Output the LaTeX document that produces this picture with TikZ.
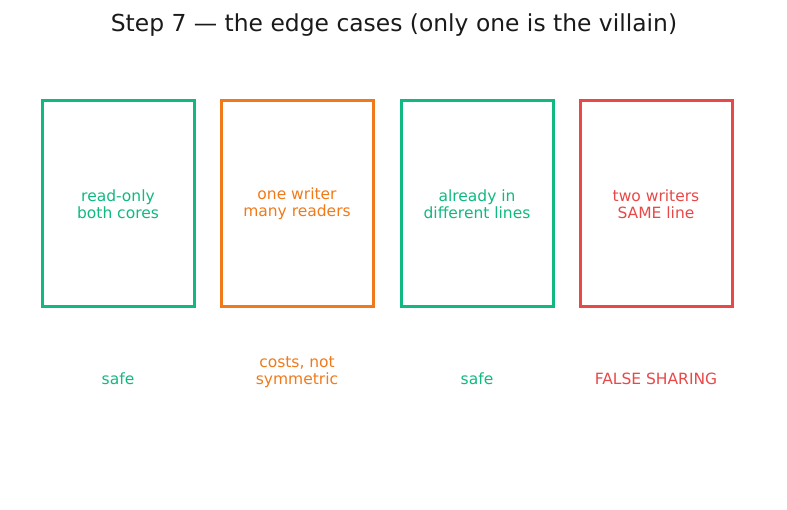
\documentclass[tikz,border=0pt]{standalone}
\usepackage{fontspec}
\setmainfont{DejaVu Sans}
\definecolor{cgreen}{HTML}{10B981}
\definecolor{corange}{HTML}{F07A1A}
\definecolor{cred}{HTML}{E84848}
\definecolor{ctitle}{HTML}{1A1A1A}
\begin{document}
\begin{tikzpicture}[x=1pt,y=1pt,
  card/.style={draw=#1, line width=3pt, minimum width=152pt, minimum height=206pt, inner sep=0pt, text=#1, align=center, font=\fontsize{15.5}{17}\selectfont},
  verdict/.style={text=#1, align=center, anchor=south, font=\fontsize{15.5}{17}\selectfont, inner sep=0pt}]
\useasboundingbox (0,0) rectangle (787,510);
\node[text=ctitle, font=\fontsize{23.4}{27}\selectfont] (title) at (394,485) {Step 7 — the edge cases (only one is the villain)};
\node[card=cgreen] (c1) at (118,306) {read-only\\both cores};
\node[card=corange] (c2) at (297,306) {one writer\\many readers};
\node[card=cgreen] (c3) at (477,306) {already in\\different lines};
\node[card=cred] (c4) at (656,306) {two writers\\SAME line};
\node[verdict=cgreen] (v1) at (118,125) {safe};
\node[verdict=corange] (v2) at (297,122) {costs, not\\symmetric};
\node[verdict=cgreen] (v3) at (477,125) {safe};
\node[verdict=cred] (v4) at (656,125) {FALSE SHARING};
\end{tikzpicture}
\end{document}
